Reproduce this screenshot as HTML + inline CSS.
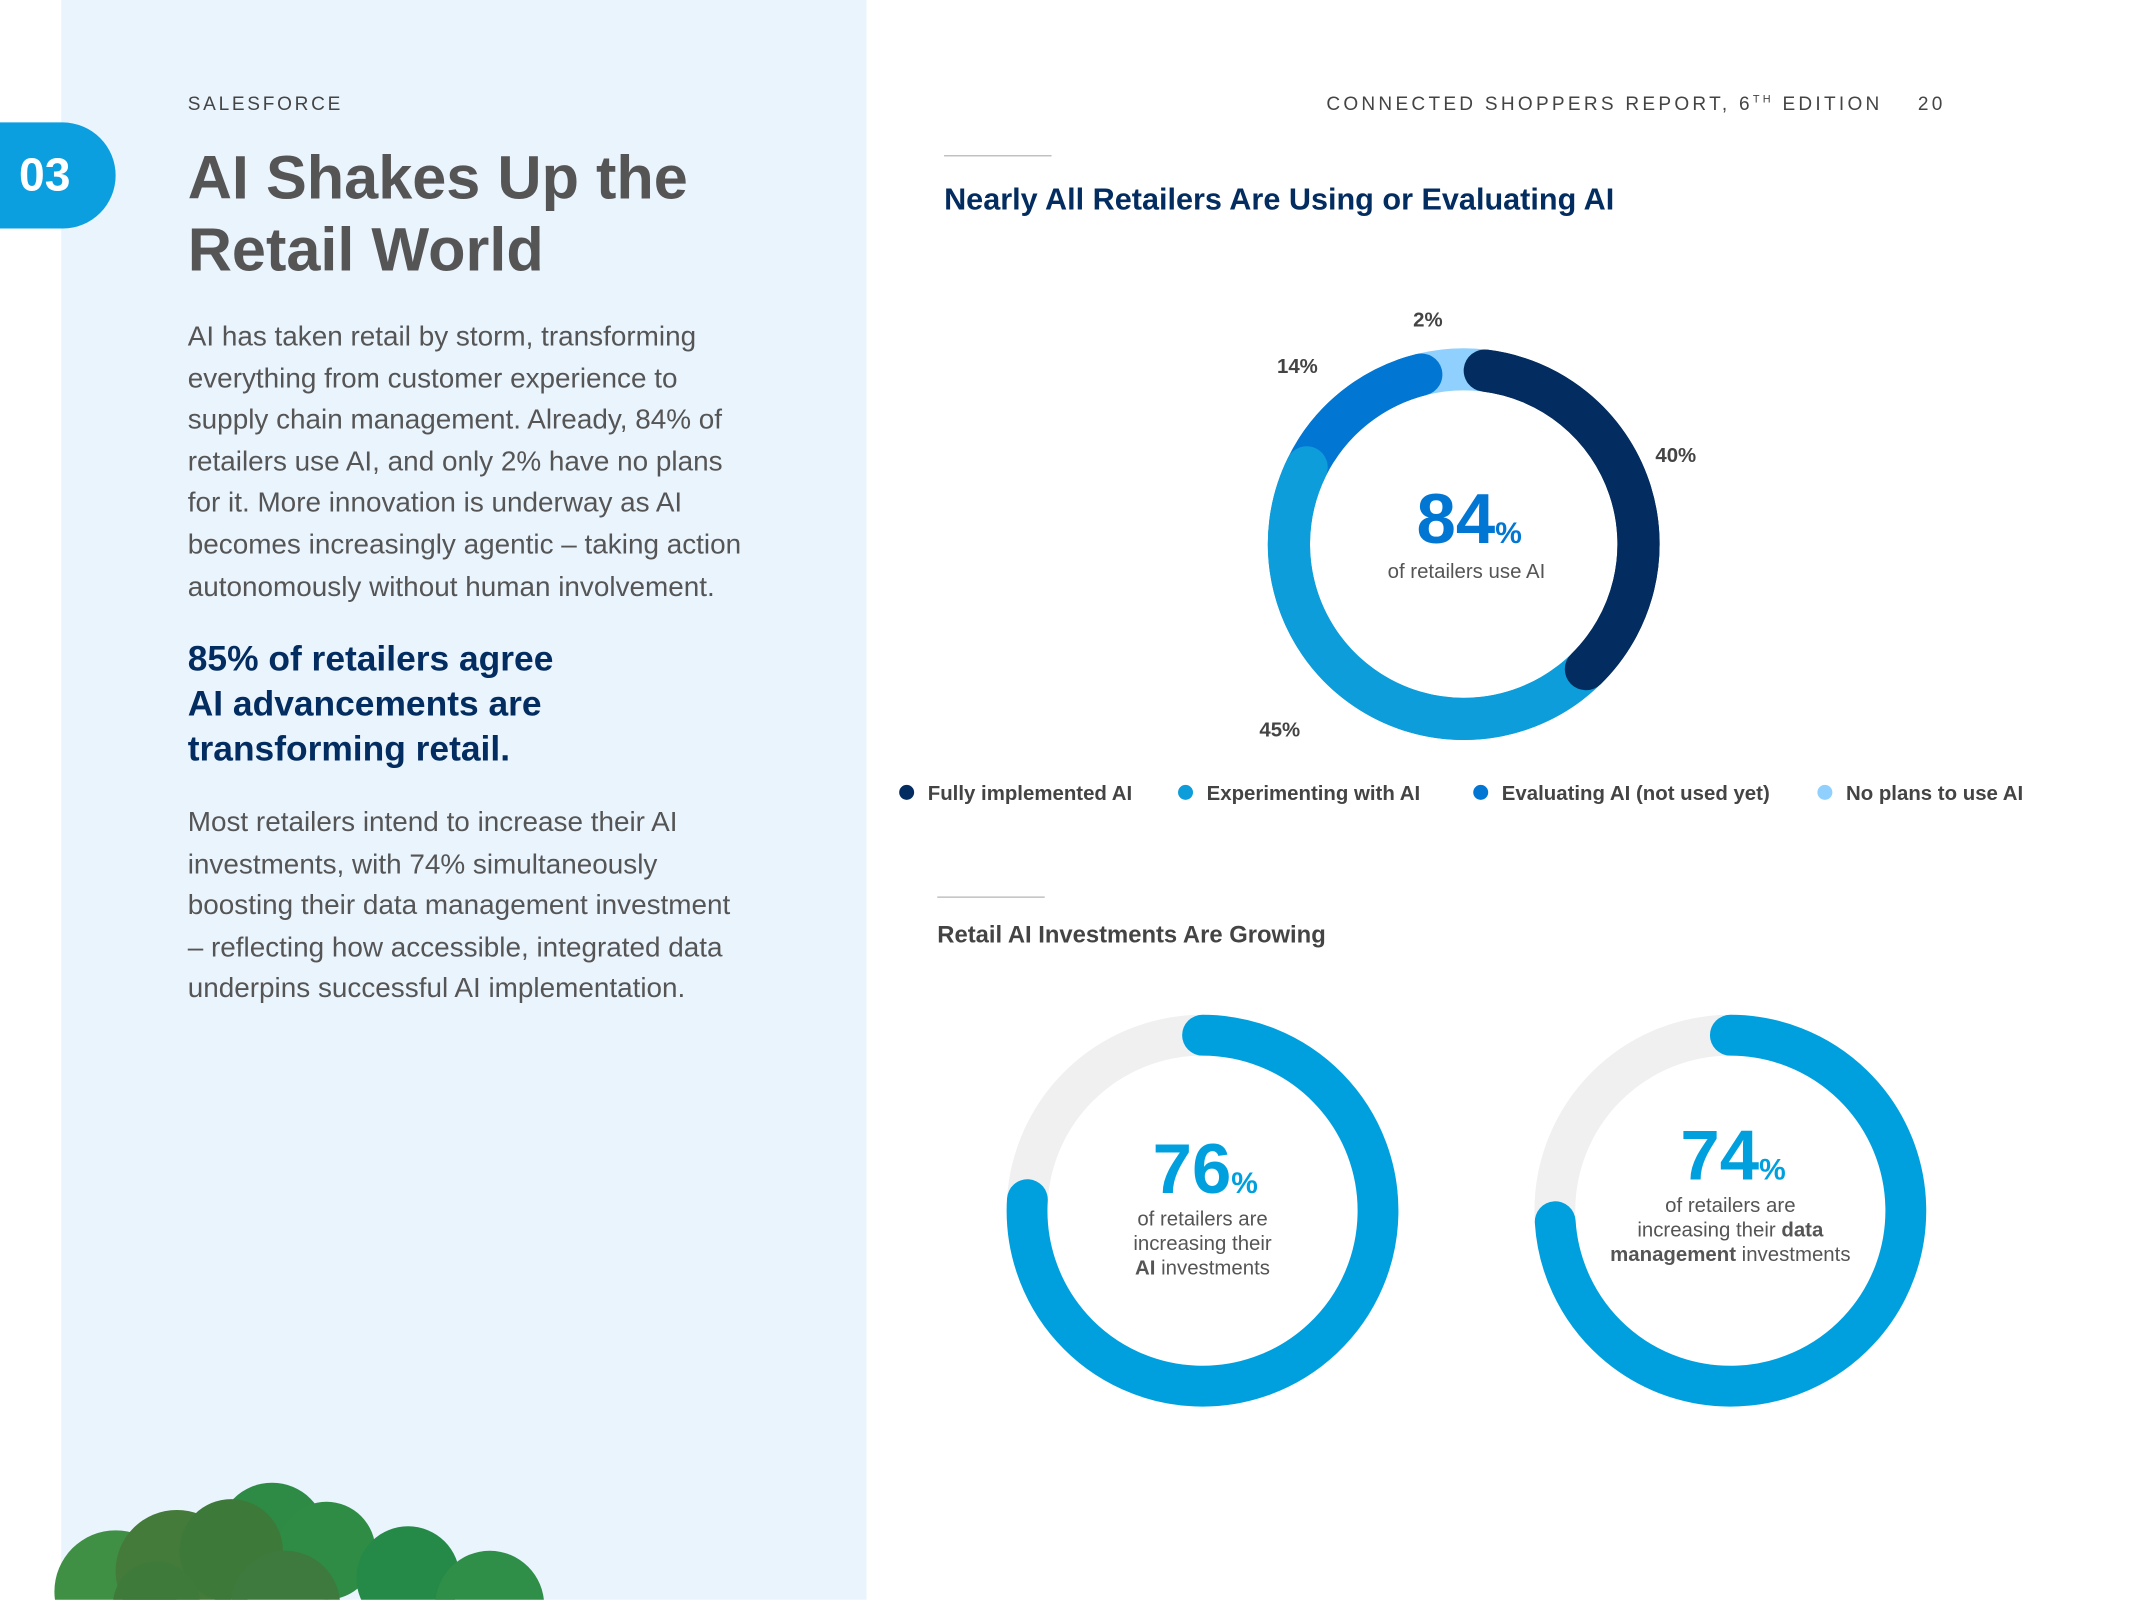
<!DOCTYPE html>
<html><head><meta charset="utf-8">
<style>
html,body{margin:0;padding:0;background:#fff;overflow:hidden}
#wrap{width:1568px;height:1176px;position:relative;transform:scale(1.36033);transform-origin:0 0;font-family:"Liberation Sans",sans-serif}
.abs{position:absolute;white-space:nowrap}
.dot{display:inline-block;width:11px;height:11px;border-radius:50%;margin-right:10px}
.leg{position:absolute;top:575px;font-size:15px;color:#444;font-weight:bold;white-space:nowrap}
</style></head><body>
<div id="wrap">
<div class="abs" style="left:45px;top:0;width:592px;height:1176px;background:#eaf4fd"></div>
<div class="abs" style="left:0;top:90px;width:85px;height:78px;background:#0b9fe0;border-radius:0 39px 39px 0;color:#fff;font-weight:bold;font-size:34px;line-height:78px;text-indent:14px">03</div>
<div class="abs" style="left:138px;top:68px;font-size:14px;letter-spacing:2px;color:#444">SALESFORCE</div>
<div class="abs" style="left:138px;top:104px;font-size:45px;line-height:53px;color:#555;font-weight:bold">AI Shakes Up the<br>Retail World</div>
<div class="abs" style="left:138px;top:233px;font-size:20.5px;line-height:30.6px;color:#555">AI has taken retail by storm, transforming<br>everything from customer experience to<br>supply chain management. Already, 84% of<br>retailers use AI, and only 2% have no plans<br>for it. More innovation is underway as AI<br>becomes increasingly agentic – taking action<br>autonomously without human involvement.</div>
<div class="abs" style="left:138px;top:468px;font-size:26px;line-height:33px;color:#032d60;font-weight:bold">85% of retailers agree<br>AI advancements are<br>transforming retail.</div>
<div class="abs" style="left:138px;top:590px;font-size:20.5px;line-height:30.6px;color:#555">Most retailers intend to increase their AI<br>investments, with 74% simultaneously<br>boosting their data management investment<br>– reflecting how accessible, integrated data<br>underpins successful AI implementation.</div>
<svg class="abs" style="left:0;top:1070px" width="637" height="106">
<circle cx="85" cy="100" r="45" fill="#3f8f45"/><circle cx="130" cy="85" r="45" fill="#447a3a"/><circle cx="200" cy="60" r="40" fill="#2e8b45"/><circle cx="240" cy="70" r="36" fill="#2f8c45"/><circle cx="170" cy="70" r="38" fill="#3d7a3a"/><circle cx="300" cy="90" r="38" fill="#258a48"/><circle cx="360" cy="110" r="40" fill="#2f8f48"/><circle cx="210" cy="110" r="40" fill="#3e7a3d"/><circle cx="115" cy="110" r="32" fill="#3e7a3a"/></svg>
<div class="abs" style="left:975px;top:68px;font-size:14px;letter-spacing:2.4px;color:#444">CONNECTED SHOPPERS REPORT, 6<sup style="font-size:8px">TH</sup> EDITION<span style="margin-left:26px">20</span></div>
<div class="abs" style="left:694px;top:114px;width:79px;height:1px;background:#bbb"></div>
<div class="abs" style="left:694px;top:134px;font-size:22.5px;color:#032d60;font-weight:bold">Nearly All Retailers Are Using or Evaluating AI</div>
<div class="abs" style="left:689px;top:659px;width:79px;height:1px;background:#bbb"></div>
<div class="abs" style="left:689px;top:677px;font-size:17.5px;color:#444;font-weight:bold">Retail AI Investments Are Growing</div>
<svg class="abs" id="charts" style="left:0;top:0" width="1568" height="1176"></svg>
<div class="leg" style="left:661px"><span class="dot" style="background:#032d60"></span>Fully implemented AI</div>
<div class="leg" style="left:866px"><span class="dot" style="background:#0d9dda"></span>Experimenting with AI</div>
<div class="leg" style="left:1083px"><span class="dot" style="background:#0176d3"></span>Evaluating AI (not used yet)</div>
<div class="leg" style="left:1336px"><span class="dot" style="background:#90d0fe"></span>No plans to use AI</div>
<div class="abs" style="left:980px;top:352px;width:200px;text-align:center;color:#0176d3;font-weight:bold"><span style="font-size:52px">84</span><span style="font-size:22px">%</span></div>
<div class="abs" style="left:978px;top:412px;width:200px;text-align:center;font-size:15px;color:#555">of retailers use AI</div>
<div class="abs" style="left:786px;top:830px;width:200px;text-align:center;color:#00a0df;font-weight:bold"><span style="font-size:52px">76</span><span style="font-size:22px">%</span></div>
<div class="abs" style="left:784px;top:888px;width:200px;text-align:center;font-size:15px;line-height:18px;color:#555">of retailers are<br>increasing their<br><b>AI</b> investments</div>
<div class="abs" style="left:1174px;top:820px;width:200px;text-align:center;color:#00a0df;font-weight:bold"><span style="font-size:52px">74</span><span style="font-size:22px">%</span></div>
<div class="abs" style="left:1152px;top:878px;width:240px;text-align:center;font-size:15px;line-height:18px;color:#555">of retailers are<br>increasing their <b>data</b><br><b>management</b> investments</div>
</div>
<script>
const segLabels=["Fully implemented AI","Experimenting with AI","Evaluating AI (not used yet)","No plans to use AI"];
const segValues=[40,45,14,2];
const segText=["40%","45%","14%","2%"];
const invValues=[76,74];
const NS="http://www.w3.org/2000/svg";
const svg=document.getElementById('charts');
const colors=["#032d60","#0d9dda","#0176d3","#90d0fe"];
const labelNudge=[-4,2,-11,-5.5];
const labelRadius=[169,192,179,167];
function pt(cx,cy,r,deg){const a=(deg-90)*Math.PI/180;return [cx+r*Math.cos(a),cy+r*Math.sin(a)];}
function arcPath(cx,cy,r,a0,a1){const p0=pt(cx,cy,r,a0),p1=pt(cx,cy,r,a1);const large=(a1-a0)>180?1:0;return `M${p0[0]},${p0[1]} A${r},${r} 0 ${large} 1 ${p1[0]},${p1[1]}`;}
function mk(tag,attrs){const e=document.createElementNS(NS,tag);for(const k in attrs)e.setAttribute(k,attrs[k]);svg.appendChild(e);return e;}
const c1={x:1076,y:400,r:128.5,w:31};
const total=segValues.reduce((a,b)=>a+b,0);
const cap=(c1.w/2)/c1.r*180/Math.PI;
let starts=[],acc=0;
segValues.forEach(v=>{starts.push(acc/total*360);acc+=v;});
const ends=segValues.map((v,i)=>starts[i]+v/total*360);
const n=segValues.length;
// base butt layer: each segment's end shifted back by cap (neighbor cap overlaps); first segment starts shifted forward
for(let i=n-1;i>=0;i--){
  let s=(i===0?starts[i]+cap:starts[i]-cap), e=(i===n-1?ends[i]+cap:ends[i]-cap);
  if(i===0) e=ends[i]-cap;
  if(e<=s) continue;
  const p=mk('path',{d:arcPath(c1.x,c1.y,c1.r,s,e),fill:'none',stroke:colors[i],'stroke-width':c1.w});
  
  
}
// rounded overlays, drawn last-to-first so segment 0 on top
for(let i=n-2;i>=0;i--){
  const s=(i===0?starts[i]+cap:starts[i]), e=ends[i]-cap;
  if(e<=s) continue;
  const p=mk('path',{d:arcPath(c1.x,c1.y,c1.r,s,e),fill:'none',stroke:colors[i],'stroke-width':c1.w,'stroke-linecap':'round'});
  
  
}
segValues.forEach((v,i)=>{
  const mid=starts[i]+v/total*180+labelNudge[i];
  const q=pt(c1.x,c1.y,labelRadius[i],mid);
  const t=mk('text',{x:q[0],y:q[1]+5,'text-anchor':'middle','font-size':15,'font-weight':'bold',fill:'#444','font-family':'Liberation Sans, sans-serif'});
  t.textContent=segText[i];
  
  
});
const centers=[[884,890],[1272,890]];
invValues.forEach((v,i)=>{
  const [cx,cy]=centers[i];
  const tr=mk('circle',{cx:cx,cy:cy,r:129,fill:'none',stroke:'#f0f0f0','stroke-width':30});
  
  
  const p=mk('path',{d:arcPath(cx,cy,129,0,v/100*360),fill:'none',stroke:'#00a0df','stroke-width':30,'stroke-linecap':'round'});
  
  
});
</script>
</body></html>
